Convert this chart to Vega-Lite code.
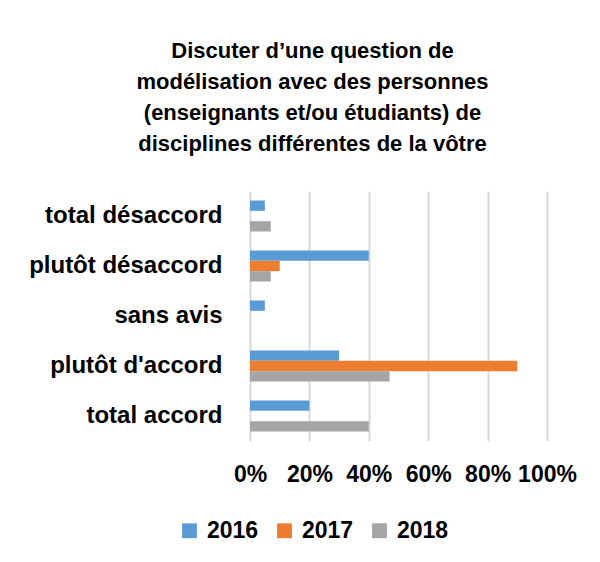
{
  "$schema": "https://vega.github.io/schema/vega-lite/v6.json",
  "autosize": "none",
  "padding": {"left": 250, "top": 191, "right": 53, "bottom": 121},
  "width": 297,
  "height": 250,
  "background": "white",
  "title": {
    "text": ["Discuter d’une question de", "modélisation avec des personnes", "(enseignants et/ou étudiants) de", "disciplines différentes de la vôtre"],
    "font": "Liberation Sans",
    "fontSize": 22,
    "fontWeight": "bold",
    "color": "#000000",
    "lineHeight": 31,
    "anchor": "middle",
    "frame": "group",
    "dx": -86,
    "offset": 35
  },
  "data": {
    "values": [
      {"categorie": "total désaccord", "annee": "2016", "valeur": 0.05},
      {"categorie": "total désaccord", "annee": "2017", "valeur": 0},
      {"categorie": "total désaccord", "annee": "2018", "valeur": 0.07},
      {"categorie": "plutôt désaccord", "annee": "2016", "valeur": 0.40},
      {"categorie": "plutôt désaccord", "annee": "2017", "valeur": 0.10},
      {"categorie": "plutôt désaccord", "annee": "2018", "valeur": 0.07},
      {"categorie": "sans avis", "annee": "2016", "valeur": 0.05},
      {"categorie": "sans avis", "annee": "2017", "valeur": 0},
      {"categorie": "sans avis", "annee": "2018", "valeur": 0},
      {"categorie": "plutôt d'accord", "annee": "2016", "valeur": 0.30},
      {"categorie": "plutôt d'accord", "annee": "2017", "valeur": 0.90},
      {"categorie": "plutôt d'accord", "annee": "2018", "valeur": 0.47},
      {"categorie": "total accord", "annee": "2016", "valeur": 0.20},
      {"categorie": "total accord", "annee": "2017", "valeur": 0},
      {"categorie": "total accord", "annee": "2018", "valeur": 0.40}
    ]
  },
  "mark": {"type": "bar"},
  "encoding": {
    "y": {
      "field": "categorie",
      "type": "nominal",
      "sort": ["total désaccord", "plutôt désaccord", "sans avis", "plutôt d'accord", "total accord"],
      "scale": {"paddingInner": 0.38, "paddingOuter": 0.19},
      "axis": {
        "title": null,
        "domain": false,
        "ticks": false,
        "tickSize": 0,
        "labelPadding": 28,
        "labelFont": "Liberation Sans",
        "labelFontSize": 24,
        "labelFontWeight": "bold",
        "labelColor": "#000000",
        "labelLimit": 300
      }
    },
    "yOffset": {
      "field": "annee",
      "type": "nominal",
      "sort": ["2016", "2017", "2018"]
    },
    "x": {
      "field": "valeur",
      "type": "quantitative",
      "scale": {"domain": [0, 1], "nice": false},
      "axis": {
        "title": null,
        "values": [0, 0.2, 0.4, 0.6, 0.8, 1],
        "format": ".0%",
        "domain": false,
        "ticks": false,
        "tickSize": 0,
        "grid": true,
        "gridColor": "#d9d9d9",
        "gridWidth": 2,
        "labelPadding": 22,
        "labelFont": "Liberation Sans",
        "labelFontSize": 23,
        "labelFontWeight": "bold",
        "labelColor": "#000000",
        "labelFlush": false
      }
    },
    "color": {
      "field": "annee",
      "type": "nominal",
      "scale": {"domain": ["2016", "2017", "2018"], "range": ["#5b9bd5", "#ed7d31", "#a5a5a5"]},
      "legend": {
        "title": null,
        "orient": "none",
        "direction": "horizontal",
        "legendX": -72,
        "legendY": 328,
        "symbolType": "square",
        "symbolSize": 220,
        "symbolStrokeWidth": 0,
        "labelOffset": 6,
        "columnPadding": 14,
        "labelFont": "Liberation Sans",
        "labelFontSize": 23,
        "labelFontWeight": "bold",
        "labelColor": "#000000"
      }
    }
  },
  "config": {
    "view": {"stroke": null}
  }
}
